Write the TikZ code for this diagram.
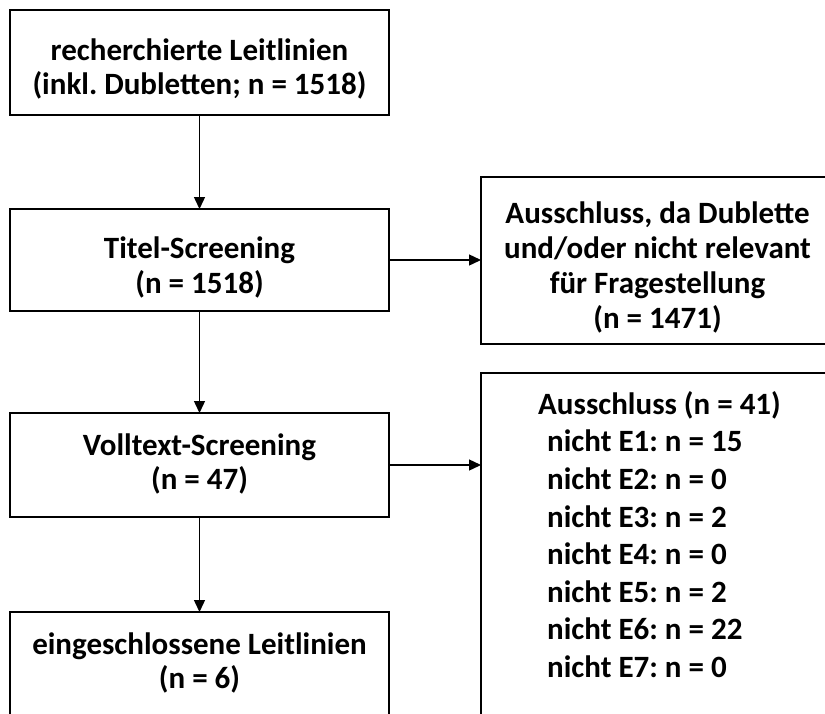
\documentclass[tikz,border=0pt]{standalone}
\usepackage{fontspec}
\setmainfont{Carlito}
\frenchspacing
\usetikzlibrary{arrows.meta}
\begin{document}
\begin{tikzpicture}[x=1pt,y=-1pt,
  box/.style={draw=black, line width=1.6pt, inner sep=0pt, outer sep=0pt, rectangle},
  txt/.style={inner sep=0pt, align=center, font=\bfseries\fontsize{31}{34}\selectfont},
  arr/.style={line width=1.4pt, -{Triangle[length=12pt,width=11pt]}}]
\useasboundingbox (0,0) rectangle (825,713);
\clip (0,0) rectangle (825,713);
% left column boxes
\node[box, minimum width=379pt, minimum height=105pt] (b1) at (199.5,62.5) {};
\node[box, minimum width=379pt, minimum height=102pt] (b2) at (199.5,260) {};
\node[box, minimum width=379pt, minimum height=104pt] (b3) at (199.5,465) {};
\node[box, minimum width=379pt, minimum height=104pt] (b4) at (199.5,664) {};
% right boxes
\node[box, minimum width=353pt, minimum height=167pt] (rA) at (657.5,260.5) {};
\node[box, minimum width=353pt, minimum height=400pt] (rB) at (657.5,573) {};
% texts
\node[txt] (t1) at (199.5,69) {recherchierte Leitlinien\\(inkl. Dubletten; n = 1518)};
\node[txt, font=\bfseries\fontsize{31}{35}\selectfont] (t2) at (199.5,267) {Titel-Screening\\(n = 1518)};
\node[txt] (t3) at (199.5,464) {Volltext-Screening\\(n = 47)};
\node[txt] (t4) at (199.5,663) {eingeschlossene Leitlinien\\(n = 6)};
\node[txt, font=\bfseries\fontsize{31}{35}\selectfont] (tA) at (657.5,267.5) {Ausschluss, da Dublette\\und/oder nicht relevant\\für Fragestellung\\(n = 1471)};
\node[txt, align=left, anchor=north west, font=\bfseries\fontsize{31}{37.6}\selectfont] (tB) at (538,391)
  {Ausschluss (n = 41)\\
   \hspace*{9pt}nicht E1: n = 15\\
   \hspace*{9pt}nicht E2: n = 0\\
   \hspace*{9pt}nicht E3: n = 2\\
   \hspace*{9pt}nicht E4: n = 0\\
   \hspace*{9pt}nicht E5: n = 2\\
   \hspace*{9pt}nicht E6: n = 22\\
   \hspace*{9pt}nicht E7: n = 0};
% connectors
\draw[arr] (b1.south) -- (b2.north);
\draw[arr] (b2.south) -- (b3.north);
\draw[arr] (b3.south) -- (b4.north);
\draw[arr] (b2.east) -- (b2.east -| rA.west);
\draw[arr] (b3.east) -- (b3.east -| rB.west);
\end{tikzpicture}
\end{document}
